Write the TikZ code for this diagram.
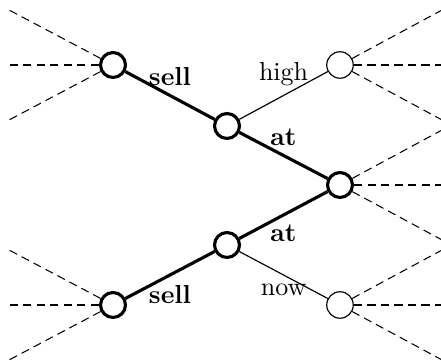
\documentclass[tikz,border=0pt]{standalone}
\begin{document}
\begin{tikzpicture}[x=0.385pt,y=-0.385pt,
  thickstate/.style={circle,draw,line width=1.2pt,minimum size=9.6pt,inner sep=0pt},
  thinstate/.style={circle,draw,line width=0.45pt,minimum size=10.2pt,inner sep=0pt},
  thickedge/.style={line width=1.2pt},
  thinedge/.style={line width=0.45pt},
  fan/.style={line width=0.4pt,dash pattern=on 3.2pt off 2pt},
  lab/.style={font=\bfseries}]
\useasboundingbox (0,0) rectangle (441,364);
\clip (0,0) rectangle (441,364);
\node[thickstate] (A) at (113,65) {};
\node[thickstate] (B) at (227,126) {};
\node[thickstate] (C) at (340,185) {};
\node[thickstate] (D) at (227,245) {};
\node[thickstate] (E) at (113,305) {};
\node[thinstate] (F) at (340,65) {};
\node[thinstate] (G) at (340,305) {};
% fan endpoints
\foreach \n in {A,E}{
  \coordinate (\n1) at ([shift={(-104,-55)}]\n.center);
  \coordinate (\n2) at ([shift={(-104,0)}]\n.center);
  \coordinate (\n3) at ([shift={(-104,55)}]\n.center);
}
\foreach \n in {F,C,G}{
  \coordinate (\n1) at ([shift={(104,-56)}]\n.center);
  \coordinate (\n2) at ([shift={(104,0)}]\n.center);
  \coordinate (\n3) at ([shift={(104,56)}]\n.center);
}
\foreach \n in {A,E,F,C,G}{
  \foreach \k in {1,2,3}{
    \draw[fan] (\n) -- (\n\k);
  }
}
\draw[thickedge] (A) -- node[midway,above,lab] {sell} (B);
\draw[thickedge] (B) -- node[midway,above,lab] {at} (C);
\draw[thickedge] (D) -- node[midway,below,lab] {at} (C);
\draw[thickedge] (E) -- node[midway,below,lab] {sell} (D);
\draw[thinedge] (B) -- node[midway,above] {high} (F);
\draw[thinedge] (D) -- node[midway,below] {now} (G);
\end{tikzpicture}
\end{document}
